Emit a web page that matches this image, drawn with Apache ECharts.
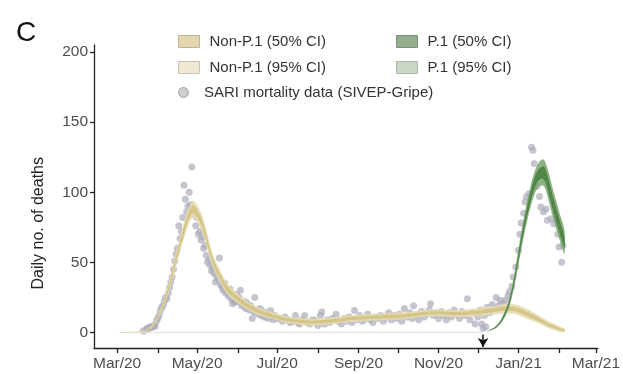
<!DOCTYPE html>
<html>
<head>
<meta charset="utf-8">
<script src="https://cdn.jsdelivr.net/npm/echarts@6/dist/echarts.min.js"></script>
<style>
  html, body { margin: 0; padding: 0; background: #fff; }
  #chart { width: 623px; height: 374px; }
</style>
</head>
<body>
<div id="chart"></div>
<script>
// all x values are days counted from 1 Mar 2020
const monthTicks = [0, 31, 61, 92, 122, 153, 184, 214, 245, 275, 306, 337, 365];
const labelDays = [0, 61, 122, 184, 245, 306, 365];
const labelText = ['Mar/20', 'May/20', 'Jul/20', 'Sep/20', 'Nov/20', 'Jan/21', 'Mar/21'];
const yTicks = [0, 50, 100, 150, 200];
const p1Intro = 279; // arrow, ~5 Dec 2020

// Non-P.1 model bands
const nonDays = [0, 18, 24, 28, 32, 36, 40, 44, 48, 52, 55, 58, 61, 65, 69, 73, 78, 84, 91, 99, 108, 118, 130, 145, 160, 180, 200, 220, 240, 260, 275, 288, 297, 305, 313, 321, 329, 337, 341];
const nonLo95 = [0, 0.2, 1.7, 4.8, 11, 19, 30, 44, 57.5, 70, 78, 82, 79, 71, 58.5, 46, 36.5, 27, 21.5, 16.5, 12, 9.5, 6.5, 5, 5.5, 7.5, 8.5, 9.5, 11.5, 11, 11.5, 13, 13.5, 12.7, 9.5, 6.5, 3, 0.5, 0];
const nonHi95 = [0, 0.8, 3.3, 7.2, 15, 25, 38, 54, 68.5, 82, 90, 94, 91, 83, 69.5, 56, 45.5, 35, 28.5, 22.5, 18, 14.5, 11.5, 10, 10.5, 12.5, 13.5, 14.5, 16.5, 16, 17.5, 19, 20.5, 19.7, 16.5, 12.5, 8, 4.5, 3];
const nonLo50 = [0, 0.4, 2.1, 5.5, 12.1, 20.6, 32.2, 46.8, 60.5, 73.3, 81.3, 85.3, 82.3, 74.3, 61.5, 48.8, 39, 29.2, 23.4, 18.1, 13.6, 10.9, 7.9, 6.4, 6.9, 8.9, 9.9, 10.9, 12.9, 12.4, 13.1, 14.6, 15.4, 14.6, 11.4, 8.1, 4.4, 1.6, 0.8];
const nonHi50 = [0, 0.6, 2.9, 6.5, 13.9, 23.4, 35.8, 51.2, 65.5, 78.7, 86.7, 90.7, 87.7, 79.7, 66.5, 53.2, 43, 32.8, 26.6, 20.9, 16.4, 13.1, 10.1, 8.6, 9.1, 11.1, 12.1, 13.1, 15.1, 14.6, 15.9, 17.4, 18.6, 17.8, 14.6, 10.9, 6.6, 3.4, 2.2];

// P.1 model bands
const p1Days = [279, 284, 289, 293, 297, 300, 303, 306, 309, 312, 315, 318, 321, 324, 326, 329, 332, 335, 338, 341];
const p1Lo95 = [0, 1.2, 3.2, 7, 13.5, 21.5, 33.5, 48.5, 63.5, 77, 88.5, 98, 103.5, 105, 103.5, 94, 83, 73, 64, 56];
const p1Hi95 = [0, 1.8, 4.8, 10, 18.5, 28.5, 42.5, 59.5, 76.5, 91, 103.5, 114, 120.5, 123.5, 122.5, 114, 103, 93, 83, 73];
const p1Lo50 = [0, 1.4, 3.6, 7.8, 14.8, 23.4, 36, 51.5, 67, 80.8, 92.4, 102.2, 108, 109.8, 108.2, 99, 88, 78, 68.8, 60.6];
const p1Hi50 = [0, 1.6, 4.4, 9.2, 17.2, 26.6, 40, 56.5, 73, 87.2, 99.6, 109.8, 116, 118.2, 117.8, 109, 98, 88, 78.2, 68.4];

// SARI mortality data points [day, deaths]
const sariPoints = [
  [20, 1], [22, 2], [23, 3], [24, 3], [25, 4], [26, 3.5], [27, 4], [28, 5], [29, 4.5], [30, 8],
  [31, 10], [32, 12], [33, 15.7], [34, 18], [35, 19], [36, 22], [37, 25], [38, 24], [39, 28], [40, 32],
  [41, 36], [42, 39.5], [43, 45], [44, 51], [45, 56], [46, 60], [47, 76], [48, 67], [49, 72], [50, 82],
  [51, 105], [52, 95], [53, 86], [54, 90], [55, 100], [56, 91], [57, 118], [58, 87], [59, 84], [60, 76],
  [61, 82], [62, 70], [63, 72], [64, 66], [65, 68], [66, 60], [67, 62], [68, 55], [69, 50], [70, 52],
  [71, 48], [72, 44], [73, 46], [74, 42], [75, 36], [76, 40], [77, 38], [78, 53], [79, 34], [80, 32],
  [81, 30], [82, 35], [83, 28], [84, 29], [85, 26], [86, 31], [87, 24], [88, 20.5], [89, 23], [90, 21.7],
  [91, 27], [92, 22], [93, 25], [94, 30], [95, 19], [96, 20.5], [97, 22], [98, 17], [99, 21], [100, 18],
  [101, 16], [102, 19], [103, 10], [104, 15], [105, 25], [106, 14], [107, 16], [108, 13], [109, 17], [110, 12],
  [111, 15], [112, 11], [113, 13], [114, 14], [115, 10], [116, 12], [117, 15.7], [118, 11], [119, 9], [120, 12],
  [122, 10], [124, 10], [126, 8], [128, 11], [130, 9], [132, 7], [134, 8], [136, 12], [138, 7], [139, 6],
  [141, 9], [143, 12], [145, 7], [147, 6], [149, 9], [151, 8.6], [153, 5], [155, 12], [156, 14.5], [158, 6],
  [160, 9], [162, 7], [164, 10], [167, 13], [169, 8], [171, 6], [173, 10], [175, 8], [177, 11], [179, 7],
  [181, 15.7], [183, 9], [185, 12], [187, 8], [189, 10], [191, 13], [193, 9], [195, 7], [197, 11], [199, 10],
  [201, 12], [203, 8], [205, 11], [207, 14], [209, 9], [211, 12], [213, 10], [215, 13], [217, 8], [219, 17],
  [221, 11], [223, 14], [225, 10], [226, 19], [228, 12], [230, 9], [232, 15], [234, 11], [236, 13], [238, 16],
  [239, 20.5], [241, 12], [243, 14], [245, 10], [247, 15], [249, 12], [251, 9], [253, 14], [255, 11], [257, 16],
  [259, 13], [261, 10], [263, 15], [265, 12], [267, 24], [269, 9], [271, 14], [273, 6], [275, 11], [277, 16],
  [278, 6], [279, 3], [280, 12], [281, 4], [282, 18], [284, 14], [286, 20], [288, 17], [289, 25], [291, 19],
  [292, 23], [294, 21], [296, 23], [298, 26], [299, 29], [301, 33], [302, 39.5], [304, 46.6], [306, 58.6], [307, 70],
  [308, 78], [310, 85], [311, 93], [312, 96.7], [314, 99], [316, 132], [317, 130], [318, 120.5], [320, 104], [322, 97],
  [323, 89.5], [325, 86], [327, 88], [328, 80], [331, 81], [333, 77.6], [336, 70], [337, 61], [339, 50], [340, 62]
];

const FONT = 'Liberation Sans, Arial, Helvetica, sans-serif';
const NON95 = '#e6dcb1', NON50 = '#d3c17f';
const P195 = '#7ea672', P150 = '#4a8142';

// a CI band as one closed polygon: upper edge forward, lower edge back
function band(name, days, lo, hi, color, z) {
  return {
    name: name, type: 'custom', z: z, silent: true, clip: true,
    color: color,
    data: [[days[0], lo[0]]],
    renderItem: function (params, api) {
      const pts = [];
      days.forEach((d, i) => pts.push(api.coord([d, hi[i]])));
      for (let i = days.length - 1; i >= 0; i--) pts.push(api.coord([days[i], lo[i]]));
      return {
        type: 'polygon',
        shape: { points: pts, smooth: 0.3 },
        style: { fill: color, opacity: 0.88 }
      };
    }
  };
}

const chart = echarts.init(document.getElementById('chart'));

chart.setOption({
  animation: false,
  title: {
    text: 'C', left: 11, top: 14,
    textStyle: { fontFamily: FONT, fontSize: 28, fontWeight: 'normal', color: '#111' }
  },
  grid: { left: 94, right: 21, top: 45, bottom: 26 },
  legend: [
    {
      left: 178, top: 34, orient: 'vertical', padding: 0, itemGap: 11,
      itemWidth: 21, itemHeight: 12, icon: 'rect', selectedMode: false,
      textStyle: { fontFamily: FONT, fontSize: 15, color: '#333', padding: [0, 0, 0, 5] },
      data: [
        { name: 'Non-P.1 (50% CI)', itemStyle: { color: '#e2d7ae', borderColor: '#bdb596', borderWidth: 1 } },
        { name: 'Non-P.1 (95% CI)', itemStyle: { color: '#efe9d4', borderColor: '#c8c3ae', borderWidth: 1 } }
      ]
    },
    {
      left: 396, top: 34, orient: 'vertical', padding: 0, itemGap: 11,
      itemWidth: 21, itemHeight: 12, icon: 'rect', selectedMode: false,
      textStyle: { fontFamily: FONT, fontSize: 15, color: '#333', padding: [0, 0, 0, 5] },
      data: [
        { name: 'P.1 (50% CI)', itemStyle: { color: '#95ae90', borderColor: '#7a9276', borderWidth: 1 } },
        { name: 'P.1 (95% CI)', itemStyle: { color: '#cad7c6', borderColor: '#aab8a6', borderWidth: 1 } }
      ]
    },
    {
      left: 178, top: 85, orient: 'vertical', padding: 0,
      itemWidth: 21, itemHeight: 10, icon: 'circle', selectedMode: false,
      textStyle: { fontFamily: FONT, fontSize: 15, color: '#333', padding: [0, 0, 0, 5] },
      data: [
        { name: 'SARI mortality data (SIVEP-Gripe)', itemStyle: { color: '#b9b9bc', borderColor: '#8d8d92', borderWidth: 1 } }
      ]
    }
  ],
  graphic: [
    {
      type: 'text', left: 31, top: 157, rotation: Math.PI / 2,
      style: { text: 'Daily no. of deaths', fontFamily: FONT, fontSize: 16, fill: '#222' }
    }
  ],
  xAxis: {
    type: 'value', min: -17.6, max: 366.5,
    splitLine: { show: false },
    axisLine: { onZero: false, lineStyle: { color: '#222', width: 1.3 } },
    axisTick: { customValues: monthTicks, length: 5, lineStyle: { color: '#222', width: 1.3 } },
    axisLabel: {
      customValues: labelDays, margin: 8,
      formatter: v => labelText[labelDays.indexOf(v)],
      fontFamily: FONT, fontSize: 15.5, color: '#4d4d4d'
    }
  },
  yAxis: {
    type: 'value', min: -11.1, max: 205,
    splitLine: { show: false },
    axisLine: { show: true, onZero: false, lineStyle: { color: '#222', width: 1.3 } },
    axisTick: { show: true, customValues: yTicks, length: 4, lineStyle: { color: '#222', width: 1.3 } },
    axisLabel: {
      customValues: yTicks, margin: 6,
      fontFamily: FONT, fontSize: 15.5, color: '#4d4d4d'
    }
  },
  series: [
    {
      name: 'SARI mortality data (SIVEP-Gripe)', type: 'scatter', z: 1,
      data: sariPoints, symbolSize: 7, silent: true,
      itemStyle: { color: '#adadba', opacity: 0.7 }
    },
    {
      name: 'p1-zero', type: 'line', z: 2, silent: true,
      data: [[2, 0], [p1Intro, 0]], showSymbol: false,
      lineStyle: { color: '#e4e4e0', width: 1.2 },
      markLine: {
        silent: true, symbol: ['none', 'arrow'], symbolSize: [8, 9],
        label: { show: false },
        lineStyle: { color: '#111', width: 1.5, type: 'solid' },
        data: [[{ coord: [p1Intro, -1.5] }, { coord: [p1Intro, -10.3] }]]
      }
    },
    band('Non-P.1 (95% CI)', nonDays, nonLo95, nonHi95, NON95, 3),
    band('Non-P.1 (50% CI)', nonDays, nonLo50, nonHi50, NON50, 4),
    band('P.1 (95% CI)', p1Days, p1Lo95, p1Hi95, P195, 5),
    band('P.1 (50% CI)', p1Days, p1Lo50, p1Hi50, P150, 6)
  ]
});
</script>
</body>
</html>
